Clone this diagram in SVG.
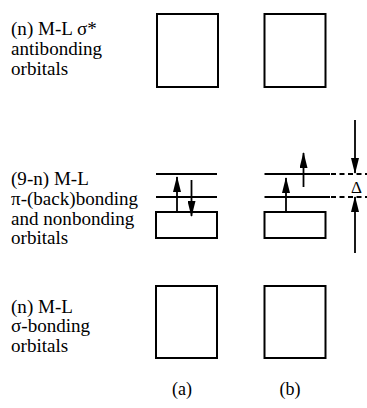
<svg xmlns="http://www.w3.org/2000/svg" width="367" height="408" viewBox="0 0 367 408">
<style>
text{font-family:"Liberation Serif","Times New Roman",serif;font-size:18px;fill:#000}
.box{fill:#fff;stroke:#000;stroke-width:2}
.lvl{stroke:#000;stroke-width:2;fill:none}
.dash{stroke:#000;stroke-width:2;fill:none;stroke-dasharray:5 3.5}
.arr{stroke:#000;stroke-width:1.8;fill:none;marker-end:url(#ah)}
</style>
<defs>
<marker id="ah" markerUnits="userSpaceOnUse" markerWidth="16" markerHeight="8" viewBox="0 0 16 8" refX="15" refY="4" orient="auto">
<path d="M0,0 L16,4 L0,8 Z" fill="#000"/>
</marker>
</defs>
<g id="label-antibonding" transform="scale(1.06,1)">
<text x="10.4" y="35">(n) M-L σ*</text>
<text x="10.4" y="55">antibonding</text>
<text x="10.4" y="75">orbitals</text>
</g>
<g id="label-pi" transform="scale(1.06,1)">
<text x="10.4" y="185">(9-n) M-L</text>
<text x="10.4" y="205">π-(back)bonding</text>
<text x="10.4" y="225">and nonbonding</text>
<text x="10.4" y="244">orbitals</text>
</g>
<g id="label-sigma" transform="scale(1.06,1)">
<text x="10.4" y="313">(n) M-L</text>
<text x="10.4" y="332">σ-bonding</text>
<text x="10.4" y="352">orbitals</text>
</g>
<g id="a-antibonding"><rect class="box" x="157" y="14" width="61" height="73"/></g>
<g id="b-antibonding"><rect class="box" x="264.5" y="14" width="61" height="73"/></g>
<g id="a-bonding"><rect class="box" x="156" y="286" width="61" height="72"/></g>
<g id="b-bonding"><rect class="box" x="264.5" y="286" width="61" height="72"/></g>
<g id="a-pi">
<line class="lvl" x1="156" y1="174" x2="217" y2="174"/>
<line class="lvl" x1="156" y1="197" x2="217" y2="197"/>
<rect class="box" x="156" y="212" width="61" height="26"/>
</g>
<g id="b-pi">
<line class="lvl" x1="264.5" y1="174" x2="330" y2="174"/>
<line class="lvl" x1="264.5" y1="197" x2="330" y2="197"/>
<rect class="box" x="264.5" y="212" width="61" height="26"/>
<text x="356.5" y="193" text-anchor="middle" style="font-size:17px">Δ</text>
</g>
<g id="connectors">
<line class="arr" x1="177" y1="212" x2="177" y2="177"/>
<line class="arr" x1="191.5" y1="180" x2="191.5" y2="216"/>
<line class="arr" x1="286" y1="212" x2="286" y2="178"/>
<line class="arr" x1="303.5" y1="187" x2="303.5" y2="153"/>
<line class="arr" x1="355" y1="120" x2="355" y2="173"/>
<line class="arr" x1="355" y1="253" x2="355" y2="197"/>
<line class="dash" x1="331" y1="174" x2="367" y2="174"/>
<line class="dash" x1="331" y1="197" x2="367" y2="197"/>
</g>
<g id="captions">
<text x="182" y="395" text-anchor="middle">(a)</text>
<text x="290" y="395" text-anchor="middle">(b)</text>
</g>
</svg>
